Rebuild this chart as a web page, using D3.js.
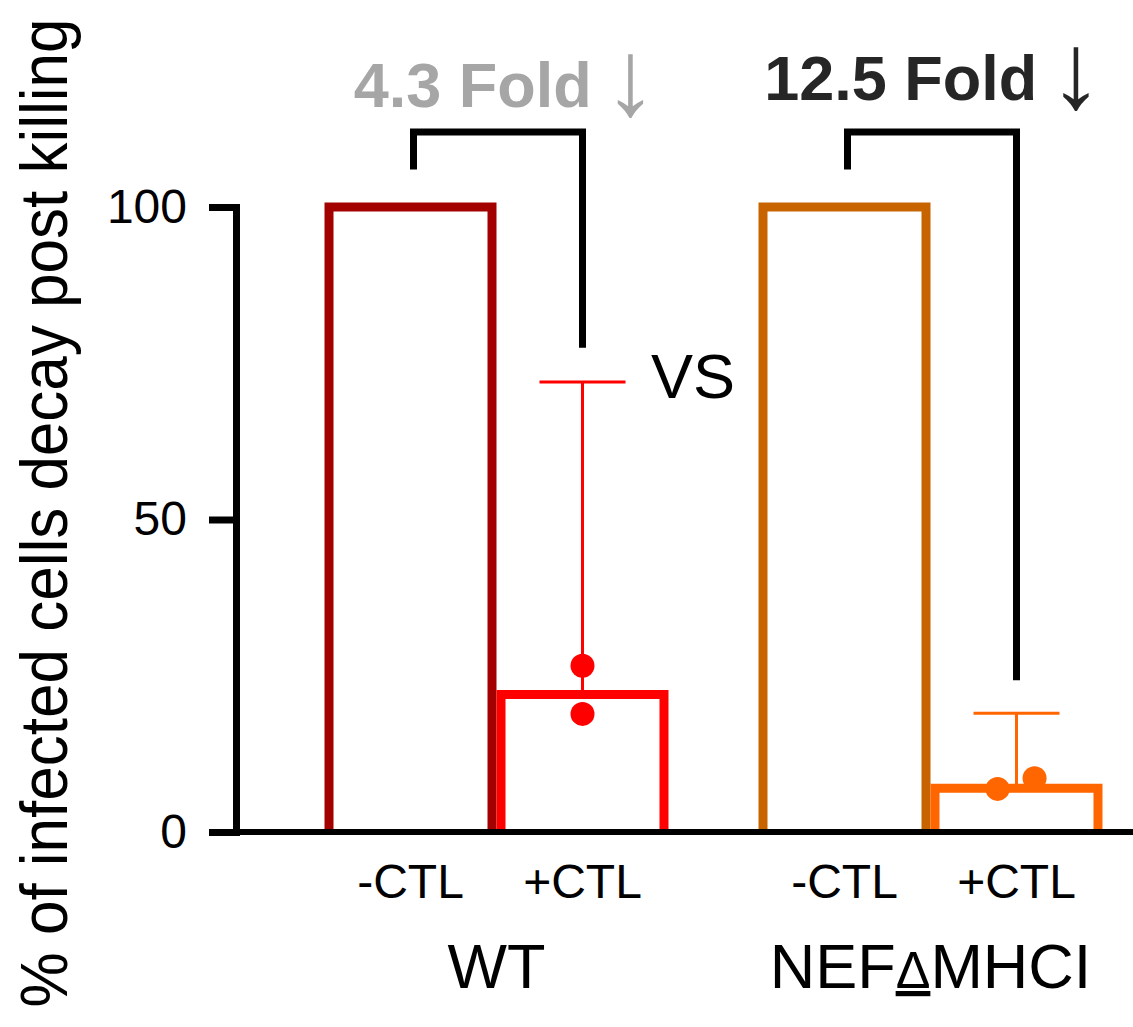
<!DOCTYPE html>
<html lang="en">
<head>
<meta charset="utf-8">
<title>CTL killing</title>
<script src="https://cdn.jsdelivr.net/npm/d3@7"></script>
<style>
  body { margin: 0; background: #fff; }
  text { font-family: "Liberation Sans", Arial, sans-serif; }
</style>
</head>
<body>
<div id="chart"></div>
<script>
// data
var groups = ["WT", "NEF"];
var groupLabels = ["WT", "NEF\u0394MHCI"];
var conditions = ["-CTL", "+CTL"];
var barValues = [[100, 22], [100, 7]];
var errorUp = [[0, 50], [0, 12]];          // upper SD whisker, +CTL only
var pointValues = [[[], [26.6, 18.9]], [[], [6.9, 8.6]]];
var barColors = [["#a30000", "#ff0000"], ["#c86400", "#ff6600"]];
var foldLabels = ["4.3 Fold", "12.5 Fold"];
var foldColors = ["#a6a6a6", "#262626"];
var yTicks = [0, 50, 100];
var bracketTop = 112, bracketLeftEnd = 106;
var bracketRightEnd = [77.5, 24.3];

var W = 1133, H = 1027;
var svg = d3.select("#chart").append("svg")
  .attr("width", W).attr("height", H);

var y = d3.scaleLinear().domain([0, 100]).range([832, 207]);
var x0 = d3.scaleBand().domain(groups)
  .range([279.5, 1147.5]).paddingInner(0.2074).paddingOuter(0.1037);
var x1 = d3.scaleBand().domain(conditions).range([0, x0.bandwidth()]);

var center = function(gi, ci) {
  return x0(groups[gi]) + x1(conditions[ci]) + x1.bandwidth() / 2;
};

// bars (open at the bottom)
var bars = [];
groups.forEach(function(g, gi) {
  conditions.forEach(function(c, ci) {
    bars.push({gi: gi, ci: ci, v: barValues[gi][ci]});
  });
});
var sw = 9;
svg.append("g").selectAll("path")
  .data(bars).enter().append("path")
  .attr("d", function(d) {
    var l = x0(groups[d.gi]) + x1(conditions[d.ci]) + sw / 2;
    var r = l + x1.bandwidth() - sw;
    return "M" + l + "," + y(0) + "V" + y(d.v) + "H" + r + "V" + y(0);
  })
  .attr("fill", "none")
  .attr("stroke", function(d) { return barColors[d.gi][d.ci]; })
  .attr("stroke-width", sw);

// error bars
var errs = bars.filter(function(d) { return errorUp[d.gi][d.ci] > 0; });
var eg = svg.append("g");
errs.forEach(function(d) {
  var cx = center(d.gi, d.ci);
  var top = d.v + errorUp[d.gi][d.ci];
  var col = barColors[d.gi][d.ci];
  eg.append("line").attr("x1", cx).attr("x2", cx)
    .attr("y1", y(d.v)).attr("y2", y(top))
    .attr("stroke", col).attr("stroke-width", 3);
  eg.append("line").attr("x1", cx - 43).attr("x2", cx + 43)
    .attr("y1", y(top)).attr("y2", y(top))
    .attr("stroke", col).attr("stroke-width", 3);
});

// individual points
var jitter = [[0, 0], [-0.11, 0.105]];
var pts = [];
groups.forEach(function(g, gi) {
  conditions.forEach(function(c, ci) {
    pointValues[gi][ci].forEach(function(v, k) {
      pts.push({gi: gi, ci: ci, v: v, k: k});
    });
  });
});
svg.append("g").selectAll("circle")
  .data(pts).enter().append("circle")
  .attr("cx", function(d) { return center(d.gi, d.ci) + jitter[d.gi][d.k] * x1.bandwidth(); })
  .attr("cy", function(d) { return y(d.v); })
  .attr("r", 12)
  .attr("fill", function(d) { return barColors[d.gi][d.ci]; });

// y axis
var yAxis = d3.axisLeft(y).tickValues(yTicks)
  .tickSize(27).tickSizeOuter(0).tickPadding(22);
var ag = svg.append("g").attr("transform", "translate(236,0)").call(yAxis);
ag.select(".domain").attr("stroke-width", 7).attr("stroke-linecap", "square");
ag.selectAll(".tick line").attr("stroke-width", 7);
ag.selectAll(".tick text").attr("font-size", 48).attr("fill", "#000")
  .style("font-family", "'Liberation Sans', Arial, sans-serif");

// baseline
svg.append("line").attr("x1", 209).attr("x2", W)
  .attr("y1", y(0)).attr("y2", y(0))
  .attr("stroke", "#000").attr("stroke-width", 6);

// brackets
groups.forEach(function(g, gi) {
  var lx = center(gi, 0) + 3, rx = center(gi, 1);
  svg.append("path")
    .attr("d", "M" + lx + "," + y(bracketLeftEnd) + "V" + y(bracketTop) +
               "H" + rx + "V" + y(bracketRightEnd[gi]))
    .attr("fill", "none").attr("stroke", "#000").attr("stroke-width", 7);
});

// fold labels
var foldY = [107, 100], foldDx = [9, 3];
groups.forEach(function(g, gi) {
  var t = svg.append("text")
    .attr("x", x0(g) + x0.bandwidth() / 2 + foldDx[gi])
    .attr("y", foldY[gi])
    .attr("text-anchor", "middle")
    .attr("font-size", 63).attr("font-weight", "bold")
    .attr("fill", foldColors[gi]);
  t.append("tspan").text(foldLabels[gi] + " ");
  t.append("tspan").attr("font-weight", "normal").attr("font-size", 108)
    .attr("dx", -6).attr("dy", 8).text("\u2193");
});

svg.append("text").attr("x", 693).attr("y", 398)
  .attr("text-anchor", "middle").attr("font-size", 63).text("VS");

// category labels
groups.forEach(function(g, gi) {
  conditions.forEach(function(c, ci) {
    svg.append("text").attr("x", center(gi, ci)).attr("y", 898)
      .attr("text-anchor", "middle").attr("font-size", 48).text(c);
  });
});

// group labels
svg.append("text").attr("x", x0("WT") + x0.bandwidth() / 2).attr("y", 988)
  .attr("text-anchor", "middle").attr("font-size", 63).text(groupLabels[0]);
var nl = svg.append("text").attr("x", x0("NEF") + x0.bandwidth() / 2).attr("y", 988)
  .attr("text-anchor", "middle").attr("font-size", 63);
var parts = groupLabels[1].split("\u0394");
nl.append("tspan").text(parts[0]);
nl.append("tspan").attr("font-size", 52)
  .style("text-decoration", "underline").text("\u0394");
nl.append("tspan").text(parts[1]);

// y title
svg.append("text")
  .attr("transform", "translate(67,513) rotate(-90) scale(1,1.08)")
  .attr("text-anchor", "middle")
  .attr("font-size", 62)
  .text("% of infected cells decay post killing");
</script>
</body>
</html>
